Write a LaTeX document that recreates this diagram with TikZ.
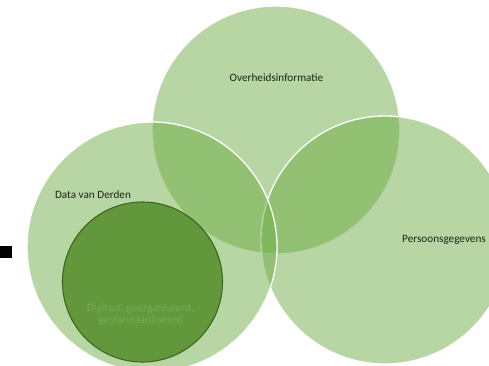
\documentclass[tikz,border=0pt]{standalone}
\usepackage{fontspec}
\setmainfont{Carlito}
\begin{document}
\begin{tikzpicture}[x=1pt,y=-1pt,
  set/.style={circle,inner sep=0pt,fill=setgreen,fill opacity=0.5,
    draw=white,line width=1.3pt,minimum size=#1},
  core/.style={circle,inner sep=0pt,fill=coregreen,draw=coreedge,
    line width=1.1pt,minimum size=#1},
  lbl/.style={font=\fontsize{11.2}{12}\selectfont,text=labelink,inner sep=0pt},
  corelbl/.style={lbl,text=coretext,align=center}]
\definecolor{setgreen}{HTML}{70AD47}
\definecolor{coregreen}{HTML}{62983B}
\definecolor{coreedge}{HTML}{3A6823}
\definecolor{coretext}{HTML}{78AA55}
\definecolor{labelink}{HTML}{1C2616}
\useasboundingbox (0,0) rectangle (489,366);
% three overlapping sets
\node[set=248pt] (gov) at (276,130) {};
\node[set=248pt] (pers) at (385,240) {};
\node[set=250pt] (third) at (152,247) {};
% inner subset
\node[core=160pt] (digital) at (142.5,282) {};
% labels
\node[lbl] (govlbl) at (276.5,78) {Overheidsinformatie};
\node[lbl] (perslbl) at (444,240) {Persoonsgegevens};
\node[lbl] (thirdlbl) at (93,195) {Data van Derden};
\node[corelbl] (digitallbl) at (140.5,315) {Digitaal, georganiseerd,\\gestandaardiseerd};
% marker at the left edge
\node[fill=black,inner sep=0pt,minimum width=12pt,minimum height=12pt,anchor=north west] (mark) at (0,246) {};
\end{tikzpicture}
\end{document}
